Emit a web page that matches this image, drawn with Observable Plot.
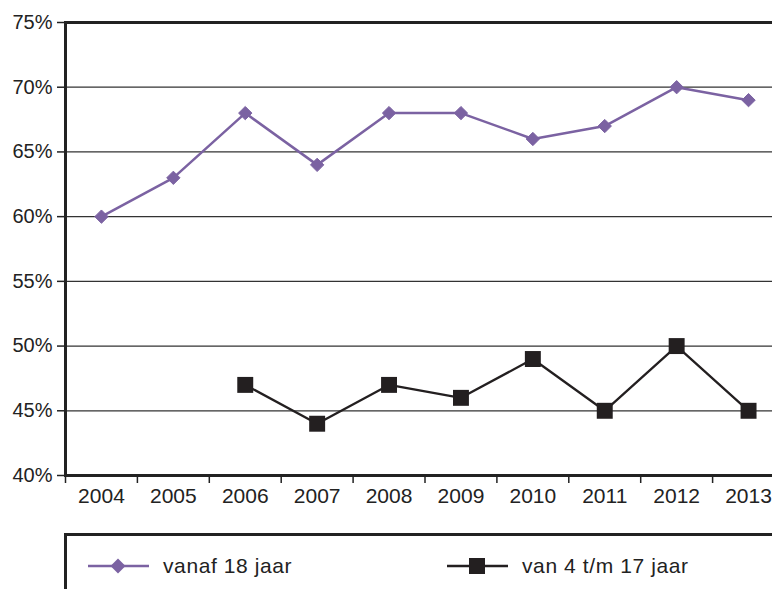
<!DOCTYPE html>
<html>
<head>
<meta charset="utf-8">
<script src="https://cdn.jsdelivr.net/npm/d3@7"></script>
<script src="https://cdn.jsdelivr.net/npm/@observablehq/plot@0.6"></script>
<style>
  html, body { margin: 0; padding: 0; background: #fff; overflow: hidden; }
  body { width: 772px; height: 589px; font-family: "Liberation Sans", Arial, Helvetica, sans-serif; color: #222; }
  #legend { position: relative; margin-left: 64px; margin-top: 18px; height: 60px; border-top: 3px solid #222; border-left: 3px solid #222; }
  .item { position: absolute; top: 18px; display: flex; align-items: center; font-size: 21px; letter-spacing: 0.6px; color: #222; }
  .item svg { margin-right: 14px; }
</style>
</head>
<body>
<div id="chart"></div>
<div id="legend"></div>
<script>
const years = [2004, 2005, 2006, 2007, 2008, 2009, 2010, 2011, 2012, 2013];
const adultValues = [0.60, 0.63, 0.68, 0.64, 0.68, 0.68, 0.66, 0.67, 0.70, 0.69];
const childYears = [2006, 2007, 2008, 2009, 2010, 2011, 2012, 2013];
const childValues = [0.47, 0.44, 0.47, 0.46, 0.49, 0.45, 0.50, 0.45];
const yTicks = [0.40, 0.45, 0.50, 0.55, 0.60, 0.65, 0.70, 0.75];
const seriesNames = ["vanaf 18 jaar", "van 4 t/m 17 jaar"];
const purple = "#7b62a2";
const dark = "#231f20";

const adult = years.map((y, i) => ({year: y, v: adultValues[i]}));
const child = childYears.map((y, i) => ({year: y, v: childValues[i]}));
const boundaries = years.map(y => y - 0.5).concat([years[years.length - 1] + 0.5]);

const plot = Plot.plot({
  width: 772,
  height: 515,
  marginLeft: 65,
  marginTop: 22,
  marginBottom: 40,
  marginRight: 0,
  style: {fontFamily: "Liberation Sans, Arial, Helvetica, sans-serif", fontSize: "20px", color: "#222"},
  x: {type: "linear", domain: [years[0] - 0.5, years[years.length - 1] + 0.5], range: [65, 784]},
  y: {domain: [0.40, 0.75], range: [475, 22]},
  marks: [
    Plot.ruleY(yTicks.slice(1, -1), {stroke: "#333", strokeWidth: 1.3}),
    Plot.ruleY([0.75], {stroke: "#222", strokeWidth: 3}),
    Plot.ruleY([0.40], {stroke: "#222", strokeWidth: 3}),
    Plot.axisY({ticks: yTicks, tickFormat: d3.format(".0%"), tickSize: 8, tickPadding: 5, stroke: "#222", strokeWidth: 1.5, label: null, fill: "#222"}),
    Plot.axisX({ticks: boundaries, tickSize: 8, tickFormat: () => "", stroke: "#222", strokeWidth: 1.5, label: null}),
    Plot.axisX({ticks: years, tickSize: 0, tickPadding: 13, tickFormat: d => String(d), label: null, fill: "#222", fontSize: 21}),
    Plot.frame({anchor: "left", stroke: "#222", strokeWidth: 3}),
    Plot.line(adult, {x: "year", y: "v", stroke: purple, strokeWidth: 2.5}),
    Plot.dot(adult, {x: "year", y: "v", symbol: "diamond2", r: 6, fill: purple, stroke: purple, strokeWidth: 1}),
    Plot.line(child, {x: "year", y: "v", stroke: dark, strokeWidth: 2.3}),
    Plot.dot(child, {x: "year", y: "v", symbol: "square", r: 9, fill: dark, stroke: "none"})
  ]
});
document.getElementById("chart").appendChild(plot);

const legend = document.getElementById("legend");
const items = [
  {name: seriesNames[0], color: purple, shape: "diamond", left: 21},
  {name: seriesNames[1], color: dark, shape: "square", left: 380}
];
for (const it of items) {
  const div = document.createElement("div");
  div.className = "item";
  div.style.left = it.left + "px";
  const marker = it.shape === "diamond"
    ? `<path d="M30,0.5 L37.5,8 L30,15.5 L22.5,8 Z" fill="${it.color}"/>`
    : `<rect x="22" y="0" width="16" height="16" fill="${it.color}"/>`;
  div.innerHTML = `<svg width="61" height="16"><line x1="0" x2="61" y1="8" y2="8" stroke="${it.color}" stroke-width="2.5"/>${marker}</svg><span>${it.name}</span>`;
  legend.appendChild(div);
}
</script>
</body>
</html>
